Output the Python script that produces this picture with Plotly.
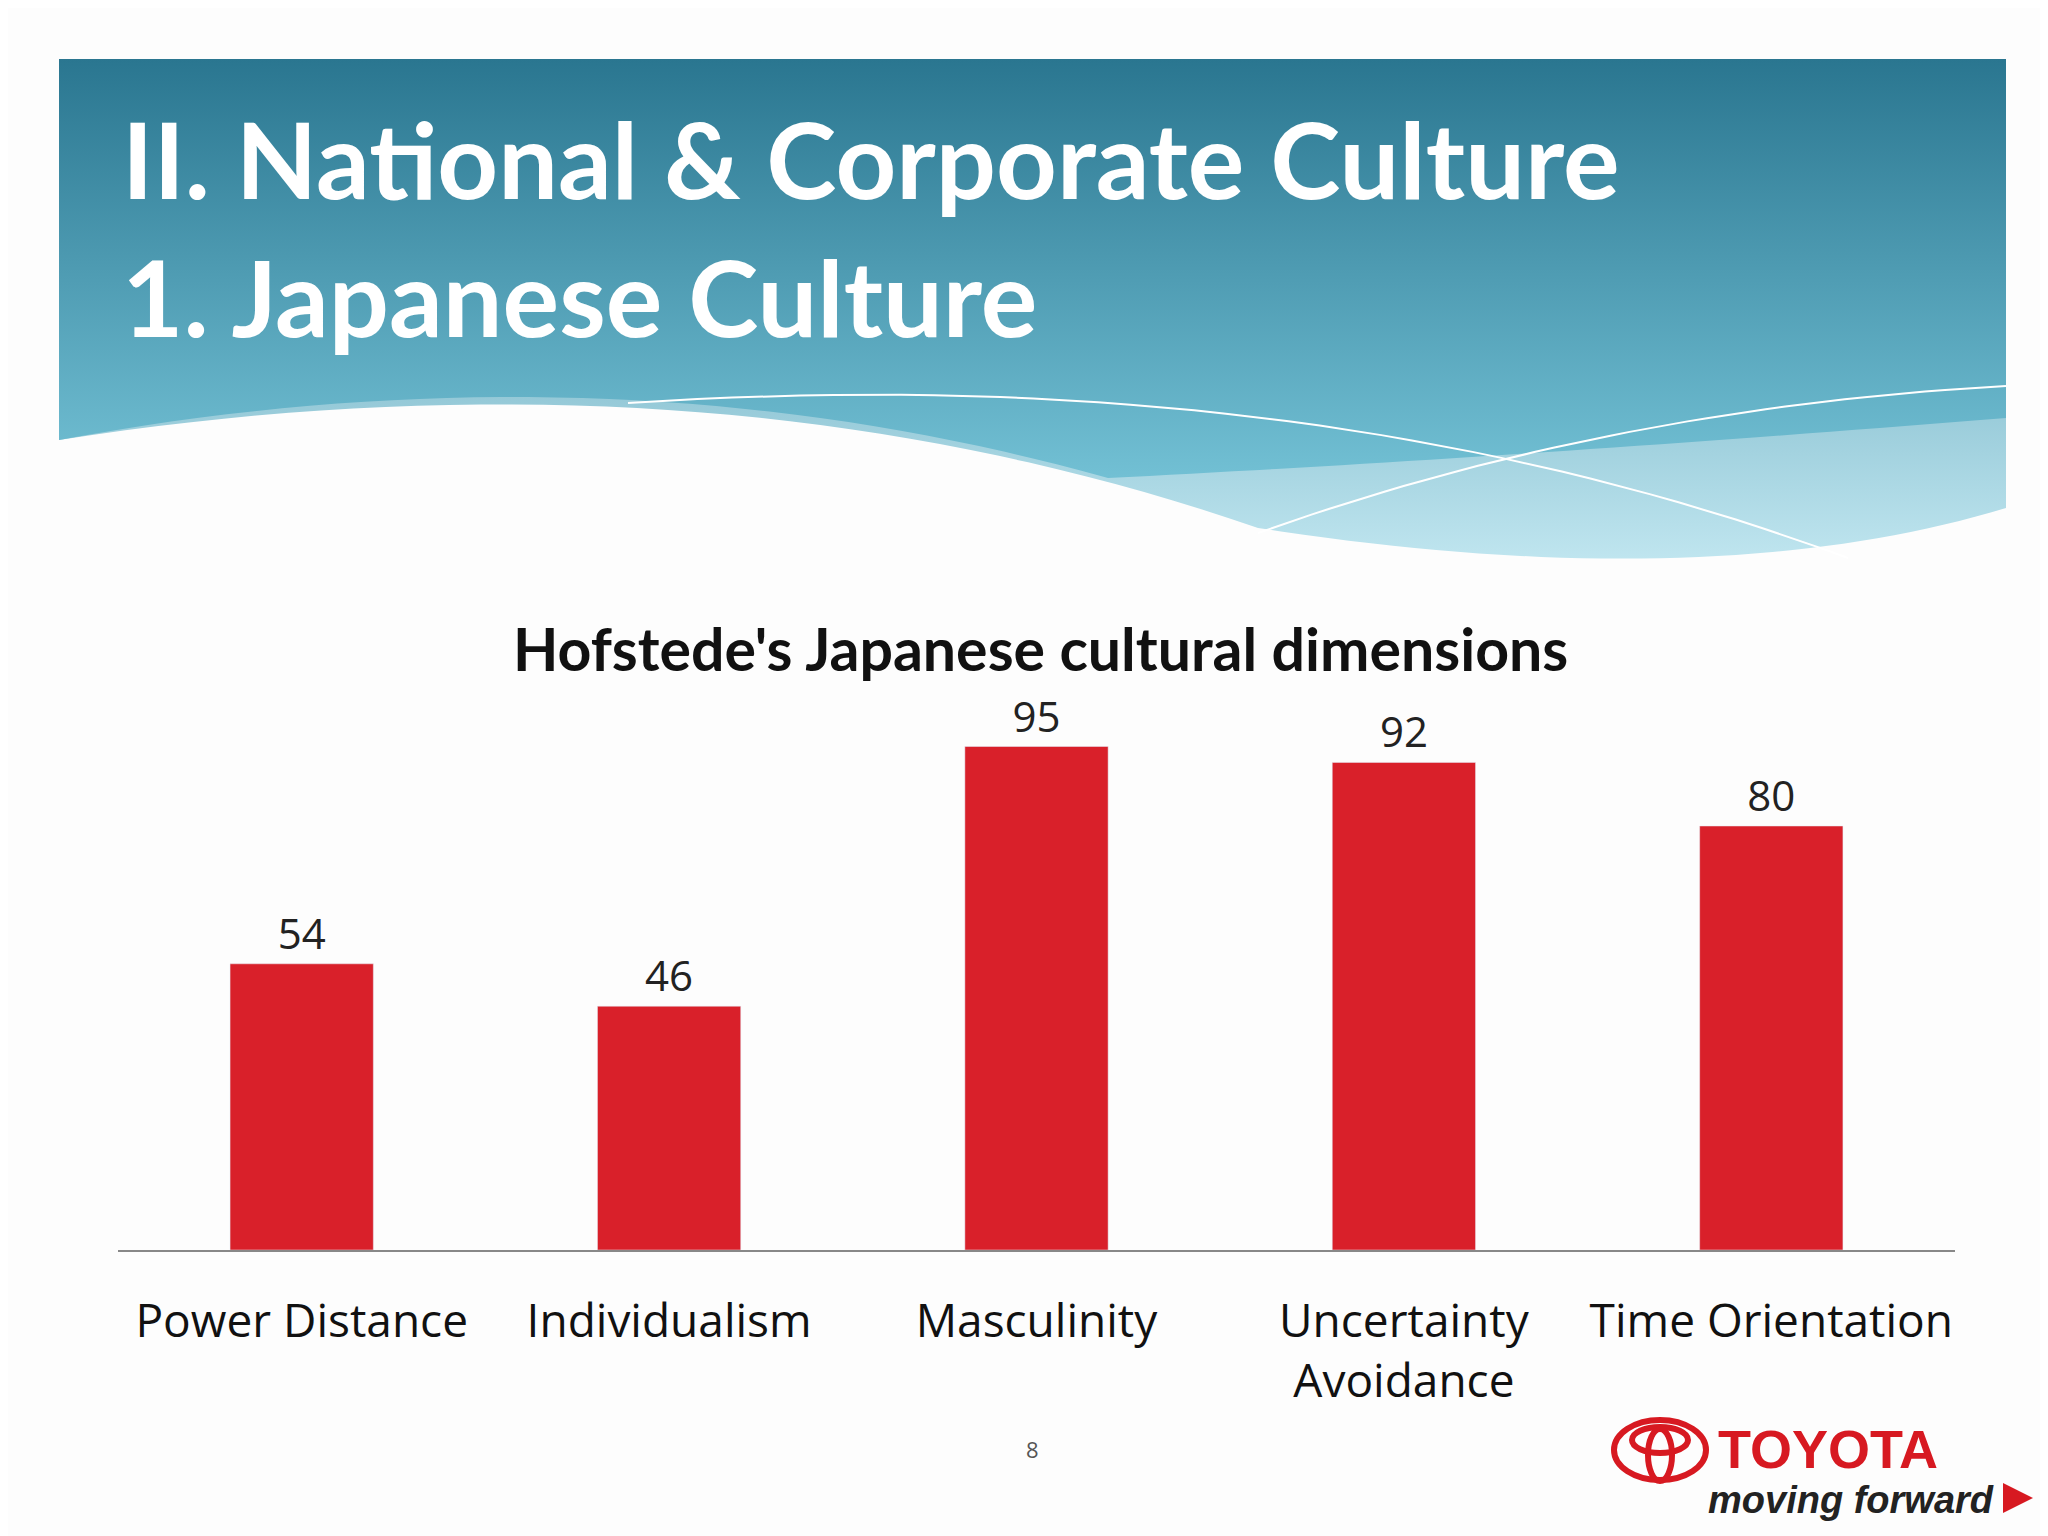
import numpy as np
import plotly.graph_objects as go

categories = ["Power Distance", "Individualism", "Masculinity", "Uncertainty<br>Avoidance", "Time Orientation"]
scores = [54, 46, 95, 92, 80]

W, H = 2048, 1536
BAR_RED = "#d9202a"


def bez(p0, p1, p2, n=40):
    t = np.linspace(0, 1, n)[:, None]
    p0, p1, p2 = map(np.array, (p0, p1, p2))
    return (1 - t) ** 2 * p0 + 2 * (1 - t) * t * p1 + t ** 2 * p2


fig = go.Figure()

# ---- header banner drawn on a hidden pixel-space axis pair ----
light = np.vstack([[[51, 51], [1998, 51]],
                   bez([1998, 500], [1700, 590], [1250, 520]),
                   bez([1250, 520], [700, 330], [51, 432])])
fig.add_trace(go.Scatter(x=light[:, 0], y=light[:, 1], xaxis="x2", yaxis="y2",
                         fill="toself", mode="none", hoverinfo="skip",
                         fillgradient=dict(type="vertical",
                                           colorscale=[[0, "#bfe5ef"], [1, "#3d8ea6"]])))
teal = np.vstack([[[51, 51], [1998, 51]],
                  bez([1998, 410], [1500, 450], [1100, 470]),
                  bez([1100, 470], [600, 330], [51, 432])])
fig.add_trace(go.Scatter(x=teal[:, 0], y=teal[:, 1], xaxis="x2", yaxis="y2",
                         fill="toself", mode="none", hoverinfo="skip",
                         fillgradient=dict(type="vertical",
                                           colorscale=[[0, "#72c0d4"], [1, "#2a7690"]])))
# white sweeping lines
for pts in (bez([620, 395], [1300, 350], [1840, 550]),
            bez([1250, 525], [1600, 400], [1998, 378])):
    fig.add_trace(go.Scatter(x=pts[:, 0], y=pts[:, 1], xaxis="x2", yaxis="y2",
                             mode="lines", line=dict(color="white", width=2),
                             hoverinfo="skip"))

# bars
fig.add_trace(go.Bar(
    x=categories, y=scores, marker_color=BAR_RED,
    text=scores, textposition="outside", cliponaxis=False,
    textfont=dict(family="Open Sans", size=42, color="#222"),
))

shapes = []
# toyota emblem
for cx, cy, rx, ry in [(1652, 1442, 46, 30), (1652, 1432, 28, 13), (1652, 1447, 12, 26)]:
    shapes.append(dict(type="circle", xref="x2", yref="y2",
                       x0=cx - rx, x1=cx + rx, y0=cy - ry, y1=cy + ry,
                       line=dict(color="#d71921", width=6)))
shapes.append(dict(type="path", xref="x2", yref="y2",
                   path="M 1995,1475 L 2025,1490 L 1995,1505 Z",
                   fillcolor="#d71921", line=dict(width=0)))

annotations = [
    dict(text="<b>II. National &amp; Corporate Culture</b>", x=112, y=150,
         font=dict(family="Lato", size=106, color="white")),
    dict(text="<b>1. Japanese Culture</b>", x=112, y=288,
         font=dict(family="Lato", size=106, color="white")),
    dict(text="8", x=1024, y=1441, xanchor="center",
         font=dict(family="Open Sans", size=22, color="#555")),
    dict(text="<b>TOYOTA</b>", x=1708, y=1441,
         font=dict(family="Liberation Sans", size=54, color="#d71921")),
    dict(text="<b><i>moving forward</i></b>", x=1988, y=1492, xanchor="right",
         font=dict(family="Liberation Sans", size=38, color="#222")),
]
for a in annotations:
    a.setdefault("xanchor", "left")
    a.update(xref="x2", yref="y2", showarrow=False, yanchor="middle")

annotations.append(dict(text="<b>Hofstede's Japanese cultural dimensions</b>",
                        xref="paper", yref="paper", x=1032 / W, y=1 - 640 / H,
                        showarrow=False, font=dict(family="Lato", size=59, color="#111")))

fig.update_layout(
    width=W, height=H, margin=dict(l=0, r=0, t=0, b=0),
    paper_bgcolor="#fdfdfd", plot_bgcolor="rgba(0,0,0,0)",
    showlegend=False, bargap=0.61,
    xaxis=dict(domain=[110 / W, 1947 / W], showline=True, linecolor="#888", linewidth=2,
               ticks="", tickfont=dict(family="Open Sans", size=46, color="#111"),
               ticklabelstandoff=30),
    yaxis=dict(domain=[1 - 1242 / H, 1 - 712 / H], range=[0, 100], visible=False),
    xaxis2=dict(domain=[0, 1], range=[0, W], visible=False, anchor="y2"),
    yaxis2=dict(domain=[0, 1], range=[H, 0], visible=False, anchor="x2"),
    shapes=shapes, annotations=annotations,
)

fig.write_html("out.html")
